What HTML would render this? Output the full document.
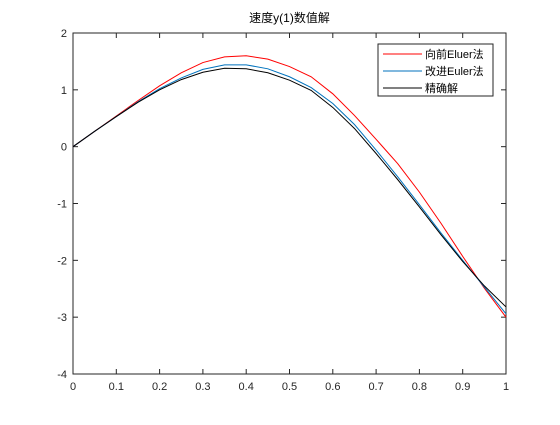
<!DOCTYPE html>
<html><head><meta charset="utf-8"><style>
body{margin:0;background:#fff;}
svg text{font-family:"Liberation Sans","Noto Sans CJK SC",sans-serif;}
</style></head><body>
<svg id="c" width="560" height="420" xmlns="http://www.w3.org/2000/svg">
<rect width="560" height="420" fill="#fff"/>
</svg>
<script>
const xs=[0,0.05,0.1,0.15,0.2,0.25,0.3,0.35,0.4,0.45,0.5,0.55,0.6,0.65,0.7,0.75,0.8,0.85,0.9,0.95,1];
const euler=[0,0.27,0.54,0.81,1.07,1.3,1.48,1.58,1.6,1.54,1.41,1.23,0.93,0.55,0.13,-0.3,-0.8,-1.35,-1.93,-2.49,-3.0];
const improved=[0,0.27,0.53,0.79,1.02,1.21,1.36,1.44,1.44,1.37,1.23,1.04,0.76,0.39,-0.06,-0.53,-1.02,-1.52,-2.0,-2.47,-2.94];
const exact=[0,0.27,0.53,0.78,1.0,1.18,1.31,1.38,1.37,1.3,1.17,0.99,0.69,0.32,-0.12,-0.58,-1.06,-1.55,-2.02,-2.45,-2.82];
const xTicks=[0,0.1,0.2,0.3,0.4,0.5,0.6,0.7,0.8,0.9,1];
const yTicks=[-4,-3,-2,-1,0,1,2];
const L=73,R=506,T=33,B=374;
const X=v=>L+(R-L)*v;
const Y=v=>B-(B-T)*(v+4)/6;
const svg=document.getElementById('c');
const NS='http://www.w3.org/2000/svg';
function mk(t,a,p){const e=document.createElementNS(NS,t);for(const k in a)e.setAttribute(k,a[k]);(p||svg).appendChild(e);return e;}
const ax=mk('rect',{x:L,y:T,width:R-L,height:B-T,fill:'none',stroke:'#262626','stroke-width':1});


xTicks.forEach(t=>{
  const x=X(t);
  mk('line',{x1:x,y1:B,x2:x,y2:B-5,stroke:'#262626'});
  mk('line',{x1:x,y1:T,x2:x,y2:T+5,stroke:'#262626'});
  const tx=mk('text',{x:x,y:B+16,'font-size':11,'text-anchor':'middle',fill:'#262626'});
  tx.textContent=String(t);
  
  
});
yTicks.forEach(t=>{
  const y=Y(t);
  mk('line',{x1:L,y1:y,x2:L+5,y2:y,stroke:'#262626'});
  mk('line',{x1:R,y1:y,x2:R-5,y2:y,stroke:'#262626'});
  const tx=mk('text',{x:L-6,y:y+4,'font-size':11,'text-anchor':'end',fill:'#262626'});
  tx.textContent=String(t);
  
  
});
function line(arr,col,name){
  const p=mk('polyline',{points:xs.map((x,i)=>X(x)+','+Y(arr[i])).join(' '),fill:'none',stroke:col,'stroke-width':1});
  
  
}
line(euler,'#ff0000','euler-line');
line(improved,'#0072bd','improved-euler-line');
line(exact,'#000000','exact-line');
const title=mk('text',{x:(L+R)/2,y:22,'font-size':12,'text-anchor':'middle',fill:'#000'});
title.textContent='速度y(1)数值解';


const lg=mk('g',{});


mk('rect',{x:378,y:44,width:115,height:52,fill:'#fff',stroke:'#262626'},lg);
[['向前Eluer法','#ff0000'],['改进Euler法','#0072bd'],['精确解','#000']].forEach((e,i)=>{
  const y=54+i*17;
  const g=mk('g',{},lg);
  
  
  mk('line',{x1:383,y1:y,x2:422,y2:y,stroke:e[1]},g);
  const t=mk('text',{x:425,y:y+4,'font-size':11,fill:'#000'},g);
  t.textContent=e[0];
});
</script>
</body></html>
